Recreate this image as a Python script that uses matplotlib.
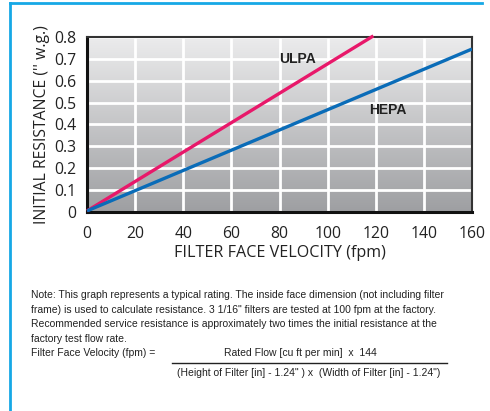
import numpy as np
import matplotlib
matplotlib.use("Agg")
import matplotlib.pyplot as plt
from matplotlib import font_manager
from matplotlib.lines import Line2D

# chart data
velocity_ulpa = [0, 119]
resistance_ulpa = [0.005, 0.805]
velocity_hepa = [0, 160]
resistance_hepa = [0.005, 0.745]
x_ticks = [0, 20, 40, 60, 80, 100, 120, 140, 160]
y_ticks = [0, 0.1, 0.2, 0.3, 0.4, 0.5, 0.6, 0.7, 0.8]
y_tick_labels = ["0", "0.1", "0.2", "0.3", "0.4", "0.5", "0.6", "0.7", "0.8"]

note_lines = [
    "Note: This graph represents a typical rating. The inside face dimension (not including filter",
    "frame) is used to calculate resistance. 3 1/16\" filters are tested at 100 fpm at the factory.",
    "Recommended service resistance is approximately two times the initial resistance at the",
    "factory test flow rate.",
]
formula_left = "Filter Face Velocity (fpm) ="
formula_num = "Rated Flow [cu ft per min]  x  144"
formula_den = "(Height of Filter [in] - 1.24\" ) x  (Width of Filter [in] - 1.24\")"

available = {f.name for f in font_manager.fontManager.ttflist}
main_font = "Open Sans" if "Open Sans" in available else "DejaVu Sans"
narrow_font = "Liberation Sans"
note_size = 7.5

ULPA_COLOR = "#e8186a"
HEPA_COLOR = "#0a6cb8"
FRAME_COLOR = "#16a8e6"

fig = plt.figure(figsize=(4.9, 4.11), dpi=100)
ax = fig.add_axes([0.1776, 0.4842, 0.7857, 0.4258])

# grey gradient background
grad = np.linspace(0, 1, 256).reshape(-1, 1)
bg = np.zeros((256, 1, 3))
top = np.array([236, 236, 237]) / 255
bottom = np.array([158, 159, 162]) / 255
bg[:, 0, :] = top + (bottom - top) * grad
ax.imshow(bg, extent=[0, 160, 0, 0.8], aspect="auto", origin="upper", zorder=0)

ax.set_xlim(0, 160)
ax.set_ylim(0, 0.8)
ax.set_xticks(x_ticks)
ax.set_yticks(y_ticks)
ax.set_yticklabels(y_tick_labels)
ax.grid(True, color="white", linewidth=2)
ax.set_axisbelow(True)
ax.tick_params(length=0, labelsize=11.3, colors="#222222")
ax.tick_params(axis="x", pad=10)
ax.tick_params(axis="y", pad=8)
for lab in ax.get_xticklabels() + ax.get_yticklabels():
    lab.set_fontfamily(main_font)

for side in ["left", "bottom"]:
    ax.spines[side].set_linewidth(2.2)
    ax.spines[side].set_color("#111111")
for side in ["top", "right"]:
    ax.spines[side].set_linewidth(1.5)
    ax.spines[side].set_color("#333333")

ax.plot(velocity_ulpa, resistance_ulpa, color=ULPA_COLOR, lw=2.4,
        solid_capstyle="butt", clip_on=False, zorder=3)
ax.plot(velocity_hepa, resistance_hepa, color=HEPA_COLOR, lw=2.4,
        solid_capstyle="butt", zorder=3)

ax.text(87.5, 0.70, "ULPA", ha="center", va="center", fontsize=10,
        fontweight="bold", family="Liberation Sans", color="#222222")
ax.text(125, 0.466, "HEPA", ha="center", va="center", fontsize=10,
        fontweight="bold", family="Liberation Sans", color="#222222")

ax.set_xlabel("FILTER FACE VELOCITY (fpm)", fontsize=11.6, family=main_font,
              color="#222222", labelpad=2)
ax.set_ylabel("INITIAL RESISTANCE ('' w.g.)", fontsize=11.3, family=main_font,
              color="#222222", labelpad=3)

# blue frame around the panel
fig.add_artist(Line2D([9.5 / 490, 482 / 490], [1 - 3.5 / 411, 1 - 3.5 / 411],
                      color=FRAME_COLOR, lw=2, transform=fig.transFigure))
fig.add_artist(Line2D([9.5 / 490, 9.5 / 490], [0, 1 - 3.5 / 411],
                      color=FRAME_COLOR, lw=2, transform=fig.transFigure))

# note block
line_y = [295, 309.5, 324, 338.5]
for txt, y in zip(note_lines, line_y):
    fig.text(31 / 490, 1 - y / 411, txt, ha="left", va="center",
             fontsize=note_size, family=narrow_font, color="#222222")
fig.text(31 / 490, 1 - 353 / 411, formula_left, ha="left", va="center",
         fontsize=note_size, family=narrow_font, color="#222222")
fig.text(300 / 490, 1 - 353 / 411, formula_num, ha="center", va="center",
         fontsize=note_size, family=narrow_font, color="#222222")
fig.add_artist(Line2D([172 / 490, 447 / 490], [1 - 363 / 411, 1 - 363 / 411],
                      color="#222222", lw=1, transform=fig.transFigure))
fig.text(309 / 490, 1 - 373 / 411, formula_den, ha="center", va="center",
         fontsize=note_size, family=narrow_font, color="#222222")

fig.savefig("out.png", dpi=100)
